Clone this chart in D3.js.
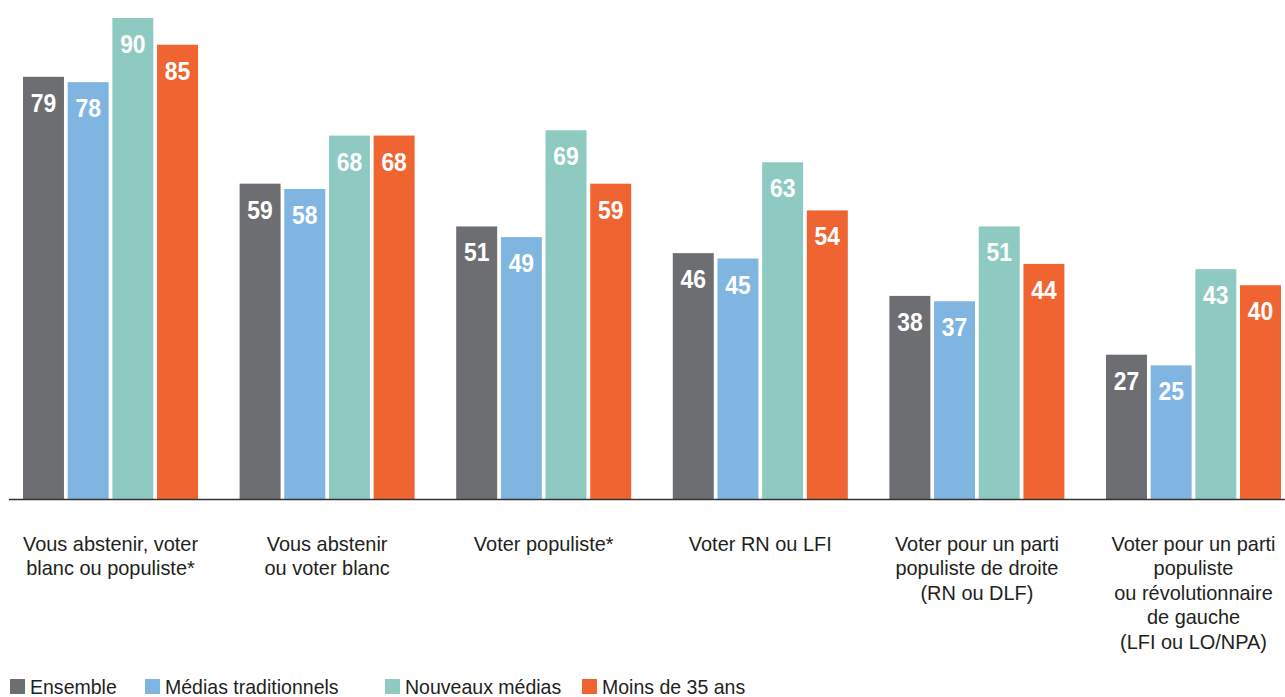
<!DOCTYPE html>
<html>
<head>
<meta charset="utf-8">
<script src="https://cdn.jsdelivr.net/npm/d3@7"></script>
<style>
  html, body { margin: 0; padding: 0; background: #fff; }
  svg { display: block; }
</style>
</head>
<body>
<svg id="chart" width="1285" height="697"></svg>
<script>
const categories = [
  ["Vous abstenir, voter", "blanc ou populiste*"],
  ["Vous abstenir", "ou voter blanc"],
  ["Voter populiste*"],
  ["Voter RN ou LFI"],
  ["Voter pour un parti", "populiste de droite", "(RN ou DLF)"],
  ["Voter pour un parti", "populiste", "ou révolutionnaire", "de gauche", "(LFI ou LO/NPA)"]
];
const seriesNames = ["Ensemble", "Médias traditionnels", "Nouveaux médias", "Moins de 35 ans"];
const ensemble = [79, 59, 51, 46, 38, 27];
const mediasTraditionnels = [78, 58, 49, 45, 37, 25];
const nouveauxMedias = [90, 68, 69, 63, 51, 43];
const moins35 = [85, 68, 59, 54, 44, 40];
const seriesValues = [ensemble, mediasTraditionnels, nouveauxMedias, moins35];
const colors = ["#6d6e72", "#80b5e2", "#8fcac2", "#f06431"];

const svg = d3.select("#chart");
const catIdx = d3.range(categories.length);

const x0 = d3.scaleBand().domain(catIdx).range([23, 1281]).paddingInner(0.192).paddingOuter(0);
const x1 = d3.scaleBand().domain(d3.range(seriesNames.length)).range([0, x0.bandwidth()]).paddingInner(0.083).paddingOuter(0);
const y = d3.scaleLinear().domain([0, 90]).range([499, 18]);

const font = "'Liberation Sans', Arial, sans-serif";

const groups = svg.selectAll("g.grp").data(catIdx).join("g")
  .attr("class", "grp")
  .attr("transform", i => `translate(${x0(i)},0)`);

groups.selectAll("rect").data(i => seriesValues.map((s, k) => ({k, v: s[i]}))).join("rect")
  .attr("x", d => x1(d.k))
  .attr("width", x1.bandwidth())
  .attr("y", d => y(d.v))
  .attr("height", d => y(0) - y(d.v))
  .attr("fill", d => colors[d.k]);

groups.selectAll("text.val").data(i => seriesValues.map((s, k) => ({k, v: s[i]}))).join("text")
  .attr("class", "val")
  .attr("transform", d => `translate(${x1(d.k) + x1.bandwidth() / 2},${y(d.v) + 35}) scale(0.88,1)`)
  .attr("text-anchor", "middle")
  .attr("fill", "#fff")
  .style("font-family", font)
  .style("font-weight", "bold")
  .style("font-size", "26px")
  .text(d => d.v);

// baseline
svg.append("line")
  .attr("x1", 9).attr("x2", 1285)
  .attr("y1", y(0) + 0.5).attr("y2", y(0) + 0.5)
  .attr("stroke", "#333").attr("stroke-width", 1.5);

// category labels
const lab = svg.selectAll("text.cat").data(catIdx).join("text")
  .attr("class", "cat")
  .attr("text-anchor", "middle")
  .attr("fill", "#231f20")
  .style("font-family", font)
  .style("font-size", "21px")
  .attr("transform", i => `translate(${x0(i) + x0.bandwidth() / 2},551) scale(0.95,1)`);
lab.selectAll("tspan").data(i => categories[i]).join("tspan")
  .attr("x", 0)
  .attr("y", (d, j) => j * 24.5)
  .text(d => d);

// legend
const legendX = [10, 145, 385, 582];
const leg = svg.selectAll("g.leg").data(seriesNames).join("g")
  .attr("class", "leg")
  .attr("transform", (d, k) => `translate(${legendX[k]},679)`);
leg.append("rect").attr("width", 15).attr("height", 15).attr("fill", (d, k) => colors[k]);
leg.append("text")
  .attr("transform", "translate(20,15) scale(0.93,1)")
  .attr("fill", "#231f20")
  .style("font-family", font)
  .style("font-size", "21px")
  .text(d => d);
</script>
</body>
</html>
